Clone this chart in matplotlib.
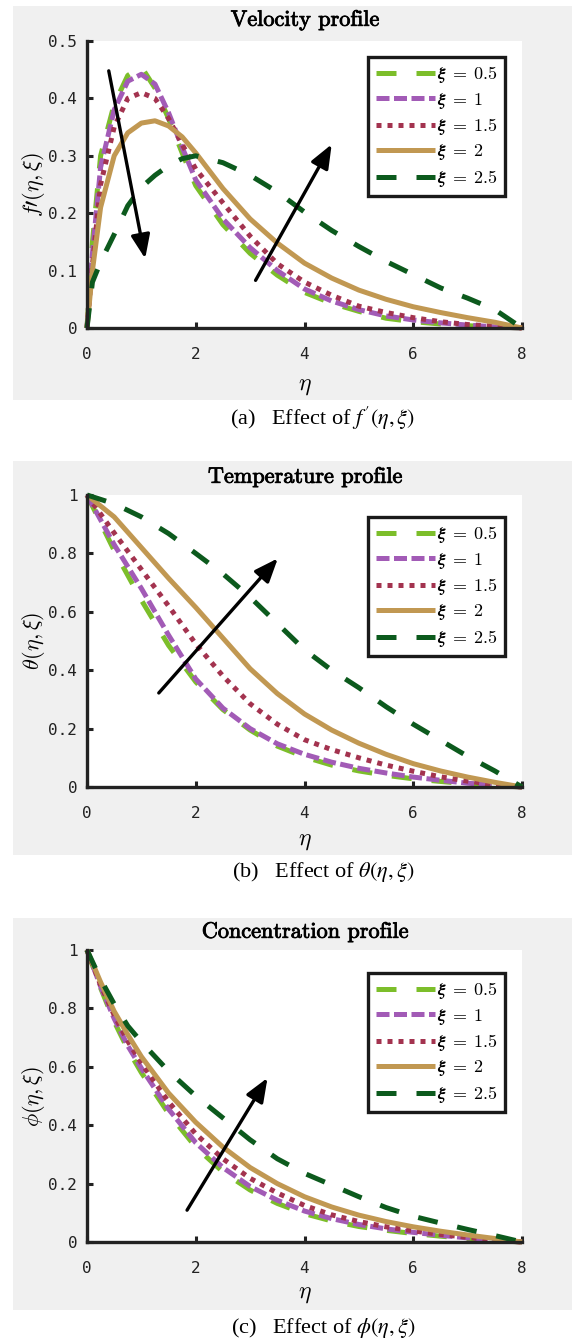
import matplotlib
matplotlib.use("Agg")
import matplotlib.pyplot as plt
from matplotlib.patches import Rectangle
import matplotlib.patheffects as pe

# ---- data ----
labels = [r"$\boldsymbol{\xi}\;=\;\mathbf{0.5}$", r"$\boldsymbol{\xi}\;=\;\mathbf{1}$",
          r"$\boldsymbol{\xi}\;=\;\mathbf{1.5}$", r"$\boldsymbol{\xi}\;=\;\mathbf{2}$",
          r"$\boldsymbol{\xi}\;=\;\mathbf{2.5}$"]

eta_a = [0, 0.1, 0.25, 0.5, 0.75, 1.0, 1.25, 1.5, 1.75, 2.0, 2.5, 3.0, 3.5,
         4.0, 4.5, 5.0, 5.5, 6.0, 6.5, 7.0, 7.5, 8.0]
vel_05 = [0, 0.15, 0.30, 0.39, 0.44, 0.455, 0.418, 0.365, 0.305, 0.248, 0.18, 0.13, 0.092,
          0.062, 0.043, 0.029, 0.017, 0.011, 0.007, 0.004, 0.002, 0.0]
vel_10 = [0, 0.13, 0.28, 0.38, 0.43, 0.442, 0.425, 0.375, 0.315, 0.258, 0.19, 0.14, 0.10,
          0.068, 0.047, 0.032, 0.021, 0.014, 0.009, 0.005, 0.002, 0.0]
vel_15 = [0, 0.11, 0.25, 0.35, 0.40, 0.41, 0.40, 0.365, 0.32, 0.277, 0.218, 0.16, 0.112,
          0.08, 0.057, 0.038, 0.027, 0.018, 0.011, 0.006, 0.003, 0.0]
vel_20 = [0, 0.10, 0.21, 0.30, 0.34, 0.357, 0.361, 0.352, 0.333, 0.305, 0.243, 0.19, 0.148,
          0.113, 0.087, 0.066, 0.05, 0.037, 0.027, 0.018, 0.01, 0.0]
vel_25 = [0, 0.08, 0.115, 0.163, 0.213, 0.245, 0.266, 0.283, 0.295, 0.30, 0.288, 0.266, 0.237,
          0.202, 0.17, 0.142, 0.116, 0.093, 0.07, 0.052, 0.032, 0.0]

eta_b = [0, 0.5, 1.0, 1.5, 2.0, 2.5, 3.0, 3.5, 4.0, 4.5, 5.0, 5.5, 6.0, 6.5, 7.0, 7.5, 8.0]
tem_05 = [1, 0.81, 0.64, 0.485, 0.36, 0.265, 0.195, 0.14, 0.103, 0.075, 0.055, 0.04, 0.028,
          0.019, 0.011, 0.005, 0.0]
tem_10 = [1, 0.83, 0.68, 0.52, 0.37, 0.27, 0.20, 0.148, 0.112, 0.085, 0.064, 0.048, 0.034,
          0.023, 0.013, 0.006, 0.0]
tem_15 = [1, 0.87, 0.745, 0.62, 0.49, 0.38, 0.285, 0.215, 0.162, 0.128, 0.10, 0.075, 0.054,
          0.035, 0.02, 0.008, 0.0]
tem_20 = [1, 0.925, 0.82, 0.715, 0.615, 0.51, 0.405, 0.32, 0.25, 0.195, 0.15, 0.112, 0.08,
          0.055, 0.034, 0.016, 0.0]
tem_25 = [1, 0.97, 0.925, 0.868, 0.80, 0.73, 0.65, 0.56, 0.47, 0.40, 0.34, 0.275, 0.215,
          0.16, 0.105, 0.055, 0.0]

eta_c = [0, 0.25, 0.5, 0.75, 1.0, 1.5, 2.0, 2.5, 3.0, 3.5, 4.0, 4.5, 5.0, 5.5, 6.0, 6.5,
         7.0, 7.5, 8.0]
con_05 = [1, 0.87, 0.755, 0.66, 0.58, 0.44, 0.325, 0.24, 0.178, 0.132, 0.097, 0.072, 0.053,
          0.04, 0.029, 0.02, 0.012, 0.005, 0.0]
con_10 = [1, 0.875, 0.765, 0.672, 0.595, 0.455, 0.34, 0.255, 0.19, 0.143, 0.106, 0.08, 0.06,
          0.045, 0.033, 0.023, 0.014, 0.006, 0.0]
con_15 = [1, 0.88, 0.777, 0.688, 0.612, 0.48, 0.37, 0.285, 0.218, 0.168, 0.125, 0.093, 0.07,
          0.052, 0.038, 0.026, 0.016, 0.007, 0.0]
con_20 = [1, 0.89, 0.79, 0.71, 0.635, 0.51, 0.41, 0.325, 0.255, 0.20, 0.155, 0.12, 0.092,
          0.07, 0.052, 0.037, 0.024, 0.012, 0.0]
con_25 = [1, 0.90, 0.815, 0.74, 0.685, 0.585, 0.50, 0.425, 0.35, 0.285, 0.235, 0.195, 0.155,
          0.118, 0.088, 0.065, 0.043, 0.022, 0.0]

xticks = [0, 2, 4, 6, 8]
xticklabels = ["0", "2", "4", "6", "8"]
yticks_a = [0, 0.1, 0.2, 0.3, 0.4, 0.5]
yticklabels_a = ["0", "0.1", "0.2", "0.3", "0.4", "0.5"]
yticks_bc = [0, 0.2, 0.4, 0.6, 0.8, 1.0]
yticklabels_bc = ["0", "0.2", "0.4", "0.6", "0.8", "1"]

# arrows (tail, head) in data units
arrows_a = [((0.4, 0.448), (1.07, 0.121)), ((3.1, 0.083), (4.5, 0.32))]
arrows_b = [((1.32, 0.322), (3.51, 0.783))]
arrows_c = [((1.84, 0.109), (3.32, 0.562))]

colors = ["#7cbe2a", "#a25bb6", "#a3334f", "#c19852", "#0c5a1d"]
dashes = [(4, 4), (2.6, 0.9), (1, 1.2), None, (4, 4)]

W, H = 572, 1343
DARK = "#222222"

plt.rcParams["mathtext.fontset"] = "cm"


def px_rect(left, top, right, bottom):
    """Pixel box (top-left origin) -> figure fraction rectangle."""
    return [left / W, 1 - bottom / H, (right - left) / W, (bottom - top) / H]


def draw_panel(fig, box, gray, eta, series, ylim, yticks, yticklabels, ylabel,
               title, title_y, xlab_y, caption, cap_y, arrows, leg_top):
    """Draw one MATLAB-style panel with its gray background and caption."""
    g_top, g_bot = gray
    fig.patches.append(Rectangle((13 / W, 1 - g_bot / H), (W - 13) / W, (g_bot - g_top) / H,
                                 transform=fig.transFigure, facecolor="#f0f0f0",
                                 edgecolor="none", zorder=-5))
    ax = fig.add_axes(px_rect(*box))
    ax.set_facecolor("white")
    for i, ys in enumerate(series):
        kw = dict(color=colors[i], lw=3.6, label=labels[i], clip_on=False)
        if dashes[i] is None:
            ax.plot(eta, ys, solid_capstyle="butt", **kw)
        else:
            ax.plot(eta, ys, dashes=dashes[i], **kw)
    for tail, head in arrows:
        ax.annotate("", xy=head, xytext=tail,
                    arrowprops=dict(arrowstyle="-|>,head_length=0.8,head_width=0.32",
                                    color="black", lw=2.4, shrinkA=0, shrinkB=0,
                                    mutation_scale=18))
    ax.set_xlim(0, 8)
    ax.set_ylim(*ylim)
    ax.set_xticks(xticks)
    ax.set_xticklabels(xticklabels, family="DejaVu Sans Mono", fontsize=11.5, color=DARK)
    ax.set_yticks(yticks)
    ax.set_yticklabels(yticklabels, family="DejaVu Sans Mono", fontsize=11.5, color=DARK)
    ax.tick_params(direction="in", length=4, width=2.2, color=DARK)
    ax.tick_params(axis="x", pad=14)
    ax.tick_params(axis="y", pad=7)
    for side in ["top", "right"]:
        ax.spines[side].set_visible(False)
    for side in ["left", "bottom"]:
        ax.spines[side].set_linewidth(2.4)
        ax.spines[side].set_color(DARK)

    ax_h = box[3] - box[1]
    ax.set_ylabel(ylabel, fontsize=16)
    ax.yaxis.set_label_coords((47 - box[0]) / (box[2] - box[0]), 0.5)
    ax.set_xlabel(r"$\eta$", fontsize=17)
    ax.xaxis.set_label_coords(0.5, -(xlab_y - box[3]) / ax_h)

    leg = ax.legend(loc="upper right",
                    bbox_to_anchor=((505 - box[0]) / (box[2] - box[0]),
                                    1 - (leg_top - box[1]) / ax_h),
                    borderaxespad=0, fontsize=13, handlelength=3.3, handletextpad=0.1,
                    labelspacing=0.3, borderpad=0.4, fancybox=False, framealpha=1,
                    edgecolor="#1a1a1a")
    leg.get_frame().set_linewidth(2.4)

    fig.text(305 / W, 1 - title_y / H, title, ha="center", va="center",
             family="cmr10", fontsize=16,
             path_effects=[pe.withStroke(linewidth=0.6, foreground="black")])
    fig.text(323 / W, 1 - cap_y / H, caption, ha="center", va="center",
             family="Liberation Serif", fontsize=16, math_fontfamily="stix")
    return ax


def main():
    fig = plt.figure(figsize=(W / 100, H / 100), dpi=100, facecolor="white")

    draw_panel(fig, (87, 41, 522, 328), (6, 400), eta_a,
               [vel_05, vel_10, vel_15, vel_20, vel_25], (0, 0.5), yticks_a, yticklabels_a,
               r"$f\prime(\eta,\xi)$", "Velocity profile", 20, 373,
               r"(a)   Effect of $f\,'(\eta,\xi)$", 418, arrows_a, 57)
    draw_panel(fig, (87, 495, 522, 787), (461, 855), eta_b,
               [tem_05, tem_10, tem_15, tem_20, tem_25], (0, 1), yticks_bc, yticklabels_bc,
               r"$\theta(\eta,\xi)$", "Temperature profile", 477, 828,
               r"(b)   Effect of $\theta(\eta,\xi)$", 872, arrows_b, 517)
    draw_panel(fig, (87, 950, 522, 1242), (918, 1310), eta_c,
               [con_05, con_10, con_15, con_20, con_25], (0, 1), yticks_bc, yticklabels_bc,
               r"$\phi(\eta,\xi)$", "Concentration profile", 932, 1281,
               r"(c)   Effect of $\phi(\eta,\xi)$", 1328, arrows_c, 973)

    fig.savefig("out.png", dpi=100, facecolor="white")


if __name__ == "__main__":
    main()
